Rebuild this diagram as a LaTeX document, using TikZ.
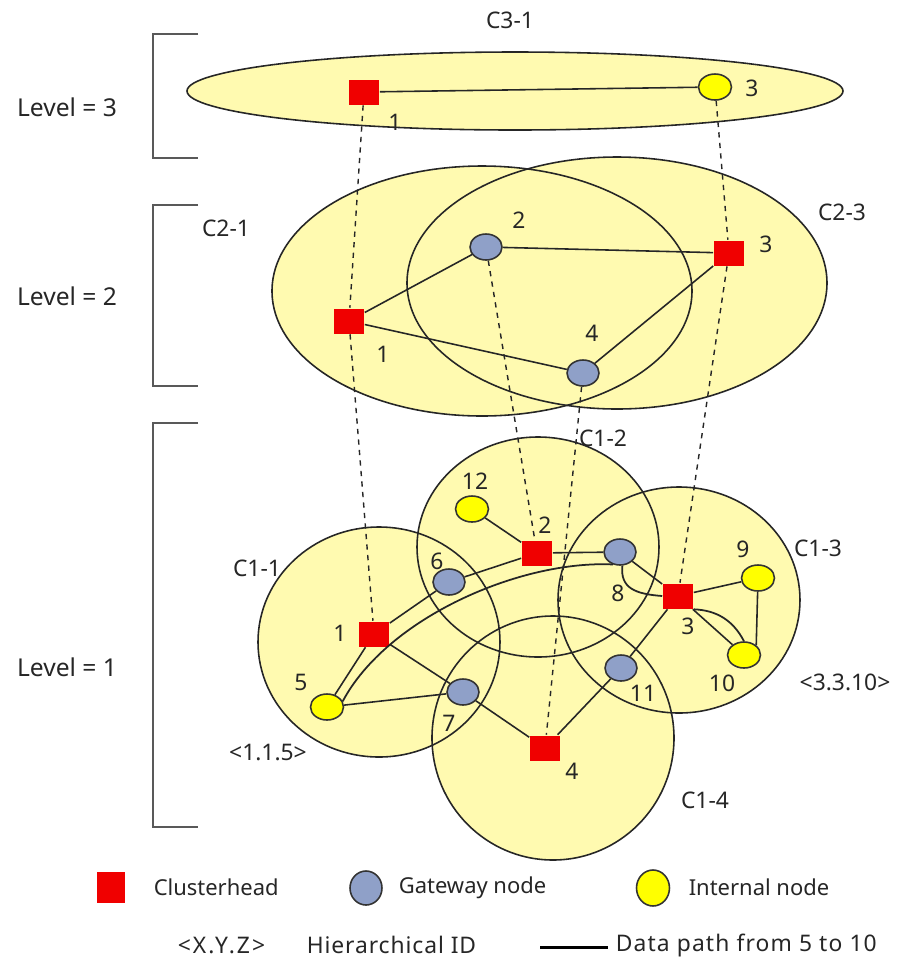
\documentclass[tikz,border=0pt]{standalone}
\usepackage{fontspec}
\setmainfont{Noto Sans}
\usetikzlibrary{shapes.geometric}

\definecolor{chred}{RGB}{240,0,0}
\definecolor{gwblue}{RGB}{143,160,200}
\definecolor{inyellow}{RGB}{255,255,0}
\definecolor{area}{RGB}{255,250,176}

\begin{document}
\begin{tikzpicture}[x=0.02cm,y=-0.02cm,line width=0.9pt,font=\fontsize{13}{15}\selectfont,text=black!85]
	\tikzset{head/.style = {shape=rectangle,fill=chred,minimum width=0.6cm,minimum height=0.5cm,inner sep=0}}
	\tikzset{gateway/.style = {shape=ellipse,draw=black!80,fill=gwblue,minimum width=0.64cm,minimum height=0.52cm,inner sep=0}}
	\tikzset{internal/.style = {shape=ellipse,draw=black!80,fill=inyellow,minimum width=0.66cm,minimum height=0.52cm,inner sep=0}}
	\tikzset{edge/.style = {draw=black!85}}
	\tikzset{mapping/.style = {draw=black!85,line width=0.8pt,dashed}}
	\tikzset{datapath/.style = {draw=black!85,line width=1pt}}
	\tikzset{bracket/.style = {draw=black!65,line width=1.3pt}}
	\tikzset{keytext/.style = {anchor=west,inner sep=0}}

	\useasboundingbox (0,0) rectangle (902,965);

	% clusters: fill first, outlines on top
	\foreach \cx/\cy/\rx/\ry in {515/91/328/39, 482/291/210/125, 617/283/210/126,
		379/642/121/115, 538/547/121/110, 679/600/121/113, 553/738/121/122}
		\fill[area] (\cx,\cy) ellipse [x radius=\rx, y radius=\ry];
	\foreach \cx/\cy/\rx/\ry in {515/91/328/39, 482/291/210/125, 617/283/210/126,
		379/642/121/115, 538/547/121/110, 679/600/121/113, 553/738/121/122}
		\draw[black!85] (\cx,\cy) ellipse [x radius=\rx, y radius=\ry];

	% levels
	\draw[bracket] (198,34) -- (153,34) -- (153,158) -- (198,158);
	\draw[bracket] (198,205) -- (153,205) -- (153,386) -- (198,386);
	\draw[bracket] (198,423) -- (153,423) -- (153,827) -- (198,827);
	\node[font=\fontsize{14}{16}\selectfont] (lv3) at (67,107) {Level = 3};
	\node[font=\fontsize{14}{16}\selectfont] (lv2) at (67,296) {Level = 2};
	\node[font=\fontsize{14}{16}\selectfont] (lv1) at (67,667) {Level = 1};

	% cluster names
	\node (C31) at (510,20) {C3-1};
	\node (C21) at (226,228) {C2-1};
	\node (C23) at (842,212) {C2-3};
	\node (C11) at (257,568) {C1-1};
	\node (C12) at (603,438) {C1-2};
	\node (C13) at (818,548) {C1-3};
	\node (C14) at (705,800) {C1-4};

	% vertices, level 3
	\node[head] (c1) at (364,92) {};
	\node[internal] (c3) at (715,87) {};
	\node (tc1) at (395,122) {1};
	\node (tc3) at (752,88) {3};

	% vertices, level 2
	\node[head] (b1) at (349,321) {};
	\node[gateway] (b2) at (486,247) {};
	\node[head] (b3) at (729,253) {};
	\node[gateway] (b4) at (583,373) {};
	\node (tb1) at (383,354) {1};
	\node (tb2) at (519,220) {2};
	\node (tb3) at (766,244) {3};
	\node (tb4) at (592,333) {4};

	% vertices, level 1
	\node[head] (a1) at (374,634) {};
	\node[head] (a2) at (537,553) {};
	\node[head] (a3) at (678,596) {};
	\node[head] (a4) at (545,748) {};
	\node[internal] (a5) at (327,707) {};
	\node[gateway] (a6) at (449,582) {};
	\node[gateway] (a7) at (463,692) {};
	\node[gateway] (a8) at (620,552) {};
	\node[internal] (a9) at (758,578) {};
	\node[internal] (a10) at (744,655) {};
	\node[gateway] (a11) at (621,668) {};
	\node[internal] (a12) at (472,509) {};
	\node (ta1) at (340,633) {1};
	\node (ta2) at (545,525) {2};
	\node (ta3) at (688,626) {3};
	\node (ta4) at (572,771) {4};
	\node (ta5) at (301,682) {5};
	\node (ta6) at (437,561) {6};
	\node (ta7) at (449,723) {7};
	\node (ta8) at (618,593) {8};
	\node (ta9) at (743,549) {9};
	\node (ta10) at (722,683) {10};
	\node (ta11) at (643,693) {11};
	\node (ta12) at (475,481) {12};
	\node (id5) at (268,752) {<1.1.5>};
	\node (id10) at (845,682) {<3.3.10>};

	% edges
	\path (c1) edge[edge] (c3);
	\path (b1) edge[edge] (b2);
	\path (b1) edge[edge] (b4);
	\path (b2) edge[edge] (b3);
	\path (b3) edge[edge] (b4);
	\path (a12) edge[edge] (a2);
	\path (a2) edge[edge] (a8);
	\path (a2) edge[edge] (a6);
	\path (a1) edge[edge] (a6);
	\path (a1) edge[edge] (a5);
	\path (a1) edge[edge] (a7);
	\path (a7) edge[edge] (a4);
	\path (a5) edge[edge] (a7);
	\path (a4) edge[edge] (a11);
	\path (a11) edge[edge] (a3);
	\path (a8) edge[edge] (a3);
	\path (a3) edge[edge] (a9);
	\path (a9) edge[edge] (a10.north east);
	\path (a3) edge[edge] (a10);

	% same node one level up
	\path (c1) edge[mapping] (b1);
	\path (b1) edge[mapping] (a1);
	\path (c3) edge[mapping] (b3);
	\path (b3) edge[mapping] (a3);
	\path (b2) edge[mapping] (a2);
	\path (b4) edge[mapping] (a4);

	% route 5 -> 10
	\draw[datapath] (a5.20) .. controls (387,618) and (520,560) .. (a8.240);
	\draw[datapath] (a8.280) .. controls (620,588) and (635,594) .. (a3.west);
	\draw[datapath] (a3.south east) to[bend left=30] (a10.north);

	% key
	\begin{scope}[font=\fontsize{12.5}{15}\selectfont]
	\node[head,minimum width=0.56cm,minimum height=0.62cm] (kh) at (111,887) {};
	\node[keytext] (khtxt) at (153,887) {Clusterhead};
	\node[gateway,minimum width=0.64cm,minimum height=0.68cm] (kg) at (366,888) {};
	\node[keytext] (kgtxt) at (398,888) {Gateway node};
	\node[internal,minimum width=0.66cm,minimum height=0.72cm] (ki) at (653,888) {};
	\node[keytext] (kitxt) at (688,887) {Internal node};
	\end{scope}
	\node[keytext] (kid) at (177,945) {\addfontfeatures{LetterSpace=9}<X.Y.Z>};
	\node[keytext] (kidtxt) at (306,945) {\addfontfeatures{LetterSpace=4}Hierarchical ID};
	\coordinate (kpa) at (540,947);
	\coordinate (kpb) at (608,947);
	\draw[black,line width=1.7pt] (kpa) -- (kpb);
	\node[keytext] (kptxt) at (615,945) {\addfontfeatures{LetterSpace=5}Data path from 5 to 10};
\end{tikzpicture}
\end{document}
